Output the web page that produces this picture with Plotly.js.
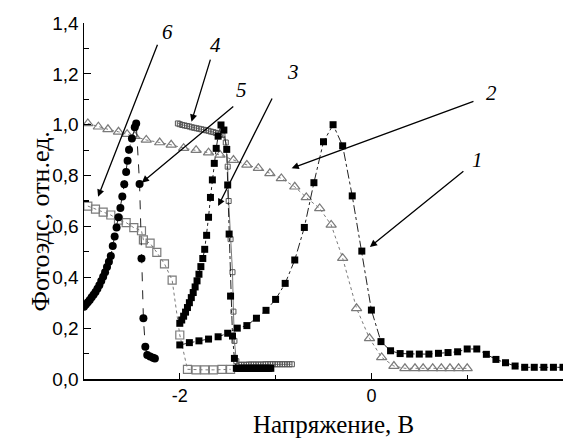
<!DOCTYPE html>
<html>
<head>
<meta charset="utf-8">
<script src="https://cdn.plot.ly/plotly-3.0.1.min.js"></script>
<style>html,body{margin:0;padding:0;background:#fff;}#chart{width:568px;height:439px;}</style>
</head>
<body>
<div id="chart"></div>
<script>
// ---- Data ----
// Curve 1: filled squares
const x1 = [-2.0,-1.9,-1.8,-1.7,-1.6,-1.5,-1.4,-1.3,-1.2,-1.1,-1.0,-0.9,-0.8,-0.7,-0.6,-0.5,-0.4,-0.3,-0.2,-0.1,0.0,
            0.1,0.2,0.3,0.4,0.5,0.6,0.7,0.8,0.9,1.0,1.1,1.2,1.3,1.4,1.5,1.6,1.7,1.8,1.9,2.0];
const y1 = [0.134,0.143,0.150,0.157,0.166,0.180,0.200,0.210,0.239,0.270,0.313,0.376,0.468,0.596,0.772,0.933,1.000,0.917,0.720,0.503,0.271,
            0.147,0.111,0.100,0.098,0.098,0.098,0.101,0.104,0.107,0.118,0.118,0.097,0.077,0.064,0.051,0.046,0.046,0.046,0.046,0.046];
// Curve 2: open triangles
const x2 = [-2.96,-2.85,-2.75,-2.64,-2.55,-2.47,-2.35,-2.21,-2.09,-1.96,-1.83,-1.70,-1.58,-1.44,-1.30,-1.18,-1.06,-0.94,-0.80,-0.68,-0.54,-0.42,-0.30,-0.155,-0.02,0.107,0.235,0.35,0.455,0.54,0.64,0.73,0.82,0.91,1.00];
const y2 = [1.005,0.992,0.982,0.972,0.963,0.955,0.940,0.930,0.921,0.908,0.900,0.890,0.881,0.861,0.842,0.829,0.809,0.789,0.756,0.714,0.671,0.606,0.475,0.278,0.160,0.085,0.051,0.042,0.042,0.042,0.042,0.042,0.042,0.042,0.042];
// Curve 3: filled squares (narrow peak)
const x3 = [-2.00,-1.98,-1.96,-1.94,-1.92,-1.90,-1.88,-1.86,-1.84,-1.82,-1.80,-1.78,-1.76,-1.74,-1.72,-1.70,-1.68,-1.66,-1.64,-1.62,-1.60,-1.57,-1.54,-1.51,-1.50,-1.485,-1.47,-1.45,-1.43,
            -1.41,-1.39,-1.37,-1.35,-1.33,-1.31,-1.29,-1.27,-1.25,-1.23,-1.21,-1.19,-1.17,-1.15,-1.13,-1.11,-1.09,-1.07,-1.05];
const y3 = [0.219,0.232,0.247,0.263,0.281,0.300,0.320,0.340,0.362,0.386,0.412,0.442,0.474,0.510,0.565,0.636,0.714,0.783,0.848,0.907,0.955,0.999,0.979,0.903,0.763,0.570,0.326,0.169,0.081,
            0.042,0.042,0.042,0.042,0.042,0.042,0.042,0.042,0.042,0.042,0.042,0.042,0.042,0.042,0.042,0.042,0.042,0.042,0.042];
// Curve 4: hatched squares
const x4 = [-2.02,-2.00,-1.975,-1.95,-1.925,-1.90,-1.875,-1.85,-1.825,-1.80,-1.775,-1.75,-1.725,-1.70,-1.675,-1.65,-1.625,-1.60,-1.575,-1.555,
            -1.52,-1.50,-1.49,-1.47,-1.45,-1.44,-1.43,-1.41,
            -1.38,-1.355,-1.33,-1.305,-1.28,-1.255,-1.23,-1.205,-1.18,-1.155,-1.13,-1.105,-1.08,-1.055,-1.03,-1.005,-0.98,-0.955,-0.93,-0.905,-0.88,-0.855,-0.83];
const y4 = [1.005,1.002,0.999,0.997,0.995,0.993,0.990,0.988,0.986,0.984,0.982,0.980,0.978,0.976,0.973,0.971,0.968,0.966,0.963,0.960,
            0.930,0.835,0.700,0.550,0.420,0.265,0.150,0.070,
            0.056,0.056,0.056,0.056,0.057,0.057,0.057,0.057,0.057,0.057,0.057,0.058,0.058,0.058,0.058,0.058,0.058,0.058,0.058,0.058,0.058,0.058,0.058];
// Curve 5: filled circles
const x5 = [-3.00,-2.98,-2.96,-2.94,-2.92,-2.90,-2.88,-2.86,-2.84,-2.82,-2.80,-2.78,-2.76,-2.74,-2.72,-2.70,-2.68,-2.66,-2.64,-2.62,-2.60,-2.58,-2.56,-2.545,-2.53,-2.50,-2.47,-2.455,
            -2.42,-2.40,-2.38,-2.36,-2.34,-2.31,-2.28,-2.26];
const y5 = [0.284,0.293,0.302,0.311,0.321,0.331,0.342,0.355,0.369,0.385,0.402,0.420,0.440,0.461,0.484,0.523,0.560,0.596,0.636,0.672,0.718,0.766,0.814,0.858,0.902,0.946,0.990,1.005,
            0.767,0.474,0.239,0.127,0.094,0.088,0.084,0.081];
// Curve 6: open squares
const x6 = [-2.96,-2.88,-2.80,-2.72,-2.64,-2.56,-2.48,-2.40,-2.38,-2.31,-2.24,-2.16,-2.08,-2.00,-1.92,-1.83,-1.74,-1.65,-1.56,-1.47];
const y6 = [0.680,0.668,0.656,0.645,0.625,0.615,0.595,0.583,0.547,0.534,0.498,0.453,0.389,0.173,0.038,0.036,0.036,0.036,0.038,0.038];

const xTickVals = [-2, 0, 2];
const xTickText = ['-2', '0', '2'];
const yTickVals = [0, 0.2, 0.4, 0.6, 0.8, 1.0, 1.2, 1.4];
const yTickText = ['0,0', '0,2', '0,4', '0,6', '0,8', '1,0', '1,2', '1,4'];
const xTitle = 'Напряжение, В';
const yTitle = 'Фотоэдс, отн.ед.';

// Curve labels: [label, head x, head y, tail x, tail y, text x, text y]
const curveLabels = [
  ['1', -0.016, 0.519, 0.976, 0.822, 1.112, 0.861],
  ['2', -0.833, 0.829, 1.081, 1.094, 1.255, 1.126],
  ['3', -1.600, 0.680, -1.029, 1.109, -0.82, 1.207],
  ['4', -1.878, 1.012, -1.676, 1.262, -1.624, 1.313],
  ['5', -2.397, 0.772, -1.426, 1.077, -1.356, 1.136],
  ['6', -2.853, 0.717, -2.227, 1.320, -2.125, 1.364]
];

const gray = '#7a7a7a';
const traces = [
  {x: x6, y: y6, mode: 'lines+markers', line: {color: gray, width: 1, dash: 'dot'},
   marker: {symbol: 'square-open', size: 8, color: gray, line: {width: 1.2}}},
  {x: x2, y: y2, mode: 'lines+markers', line: {color: gray, width: 1, dash: 'dot'},
   marker: {symbol: 'triangle-up-open', size: 9, color: gray, line: {width: 1.2}}},
  {x: x4, y: y4, mode: 'lines+markers', line: {color: gray, width: 1},
   marker: {symbol: 'square-open', size: 5, color: '#555', line: {width: 1}}},
  {x: x1, y: y1, mode: 'lines+markers', line: {color: '#222', width: 1, dash: 'dashdot'},
   marker: {symbol: 'square', size: 7, color: '#000'}},
  {x: x3, y: y3, mode: 'lines+markers', line: {color: '#222', width: 1, dash: 'dashdot'},
   marker: {symbol: 'square', size: 7, color: '#000'}},
  {x: x5, y: y5, mode: 'lines+markers', line: {color: '#222', width: 1, dash: 'dash'},
   marker: {symbol: 'circle', size: 8, color: '#000'}}
];

const annotations = [];
curveLabels.forEach(c => {
  annotations.push({x: c[1], y: c[2], ax: c[3], ay: c[4], xref: 'x', yref: 'y', axref: 'x', ayref: 'y',
    showarrow: true, arrowhead: 2, arrowsize: 1.1, arrowwidth: 1.3, arrowcolor: '#000', text: ''});
  annotations.push({x: c[5], y: c[6], xref: 'x', yref: 'y', showarrow: false, text: c[0],
    font: {family: 'Liberation Serif', size: 21, color: '#000', style: 'italic'}});
});
// axis titles placed as annotations for exact positioning
annotations.push({x: -0.40, y: (439 - 60 - 439) / 356, xref: 'x', yref: 'paper', yanchor: 'bottom',
  borderpad: 0, showarrow: false,
  text: xTitle, font: {family: 'Liberation Serif', size: 25, color: '#000'}});
annotations.push({x: (24 - 84) / 479, xref: 'paper', y: 0.617, yref: 'y', showarrow: false, textangle: -90,
  text: yTitle, font: {family: 'Liberation Serif', size: 26, color: '#000'}});

const layout = {
  width: 568, height: 439,
  margin: {l: 84, r: 5, t: 23, b: 60},
  paper_bgcolor: '#fff', plot_bgcolor: '#fff',
  showlegend: false,
  xaxis: {
    range: [-3, 2], showgrid: false, zeroline: false, showline: true, linecolor: '#000', linewidth: 1.5,
    ticks: 'inside', ticklen: 6, tickwidth: 1.2, tickcolor: '#000',
    tickvals: xTickVals, ticktext: xTickText, ticklabelstandoff: 0,
    minor: {tickvals: [-1, 1], ticks: 'inside', ticklen: 4, tickwidth: 1.2, tickcolor: '#000'},
    tickfont: {family: 'Liberation Sans', size: 18, color: '#000'}
  },
  yaxis: {
    range: [0, 1.4], showgrid: false, zeroline: false, showline: true, linecolor: '#000', linewidth: 1.5,
    ticks: 'inside', ticklen: 7, tickwidth: 1.2, tickcolor: '#000',
    tickvals: yTickVals, ticktext: yTickText,
    minor: {dtick: 0.1, ticks: 'inside', ticklen: 5, tickwidth: 1.2, tickcolor: '#000'},
    tickfont: {family: 'Liberation Sans', size: 19, color: '#000'}
  },
  annotations: annotations
};

Plotly.newPlot('chart', traces, layout, {staticPlot: true, displayModeBar: false});
</script>
</body>
</html>
